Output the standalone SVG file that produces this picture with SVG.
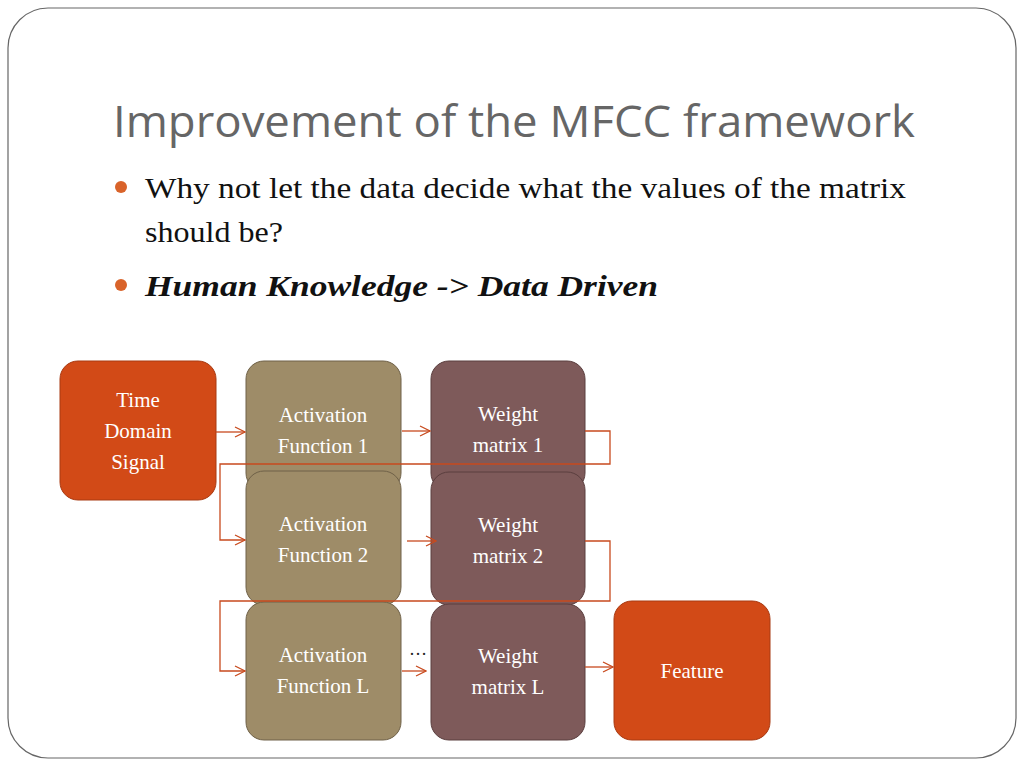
<svg xmlns="http://www.w3.org/2000/svg" width="1024" height="768" viewBox="0 0 1024 768">
<defs>
<style>
.t{font-family:"Liberation Serif",serif;font-size:21px;fill:#fff;text-anchor:middle}
.b{font-family:"Liberation Serif",serif;font-size:29px;fill:#111}
.c{fill:none;stroke:#c84a1e;stroke-width:1.3}
.o{fill:#d24a17;stroke:#a83a12}
.a{fill:#9e8c68;stroke:#6f6148}
.w{fill:#7e5a5a;stroke:#5b3f3f}
</style>
<marker id="m" markerWidth="12" markerHeight="12" refX="11" refY="6" orient="auto" markerUnits="userSpaceOnUse"><path d="M1,1 L11,6 L1,11" fill="none" stroke="#c84a1e" stroke-width="1.3"/></marker>
</defs>
<rect x="0" y="0" width="1024" height="768" fill="#fff"/>
<rect x="8" y="8" width="1008" height="750" rx="40" fill="#fff" stroke="#666" stroke-width="1.2"/>
<text x="113" y="137" font-family="Open Sans, Liberation Sans, sans-serif" font-size="44" fill="#666" textLength="802" lengthAdjust="spacingAndGlyphs">Improvement of the MFCC framework</text>
<circle cx="121" cy="187" r="6" fill="#d9632a"/>
<text class="b" x="145" y="198" textLength="761" lengthAdjust="spacingAndGlyphs">Why not let the data decide what the values of the matrix</text>
<text class="b" x="145" y="242" textLength="138" lengthAdjust="spacingAndGlyphs">should be?</text>
<circle cx="121" cy="285" r="6" fill="#d9632a"/>
<text class="b" x="145" y="296" font-weight="bold" font-style="italic" textLength="513" lengthAdjust="spacingAndGlyphs">Human Knowledge -&gt; Data Driven</text>
<g id="n-time"><rect class="o" x="60" y="361" width="156" height="139" rx="18"/><text class="t" x="138" y="407">Time</text><text class="t" x="138" y="438">Domain</text><text class="t" x="138" y="469">Signal</text></g>
<g id="n-act1"><rect class="a" x="246" y="361" width="155" height="130" rx="18"/><text class="t" x="323" y="422">Activation</text><text class="t" x="323" y="453">Function 1</text></g>
<g id="n-w1"><rect class="w" x="431" y="361" width="154" height="130" rx="18"/><text class="t" x="508" y="421">Weight</text><text class="t" x="508" y="452">matrix 1</text></g>
<g id="n-act2"><rect class="a" x="246" y="471" width="155" height="134" rx="18"/><text class="t" x="323" y="531">Activation</text><text class="t" x="323" y="562">Function 2</text></g>
<g id="n-w2"><rect class="w" x="431" y="472" width="154" height="133" rx="18"/><text class="t" x="508" y="532">Weight</text><text class="t" x="508" y="563">matrix 2</text></g>
<g id="n-actL"><rect class="a" x="246" y="602" width="155" height="138" rx="18"/><text class="t" x="323" y="662">Activation</text><text class="t" x="323" y="693">Function L</text></g>
<g id="n-wL"><rect class="w" x="431" y="604" width="154" height="136" rx="18"/><text class="t" x="508" y="663">Weight</text><text class="t" x="508" y="694">matrix L</text></g>
<g id="n-feat"><rect class="o" x="614" y="601" width="156" height="139" rx="18"/><text class="t" x="692" y="678">Feature</text></g>
<g id="connectors">
<path class="c" d="M216,432 H245" marker-end="url(#m)"/>
<path class="c" d="M402,431 H430" marker-end="url(#m)"/>
<path class="c" d="M585,431 H610 V464 H220 V540 H245" marker-end="url(#m)"/>
<path class="c" d="M407,541 H436" marker-end="url(#m)"/>
<path class="c" d="M585,541 H610 V601 H220 V671 H245" marker-end="url(#m)"/>
<path class="c" d="M402,671 H426" marker-end="url(#m)"/>
<path class="c" d="M585,667 H613" marker-end="url(#m)"/>
<text x="418" y="655" font-family="Liberation Serif, serif" font-size="18" fill="#222" text-anchor="middle">…</text>
</g>
</svg>
